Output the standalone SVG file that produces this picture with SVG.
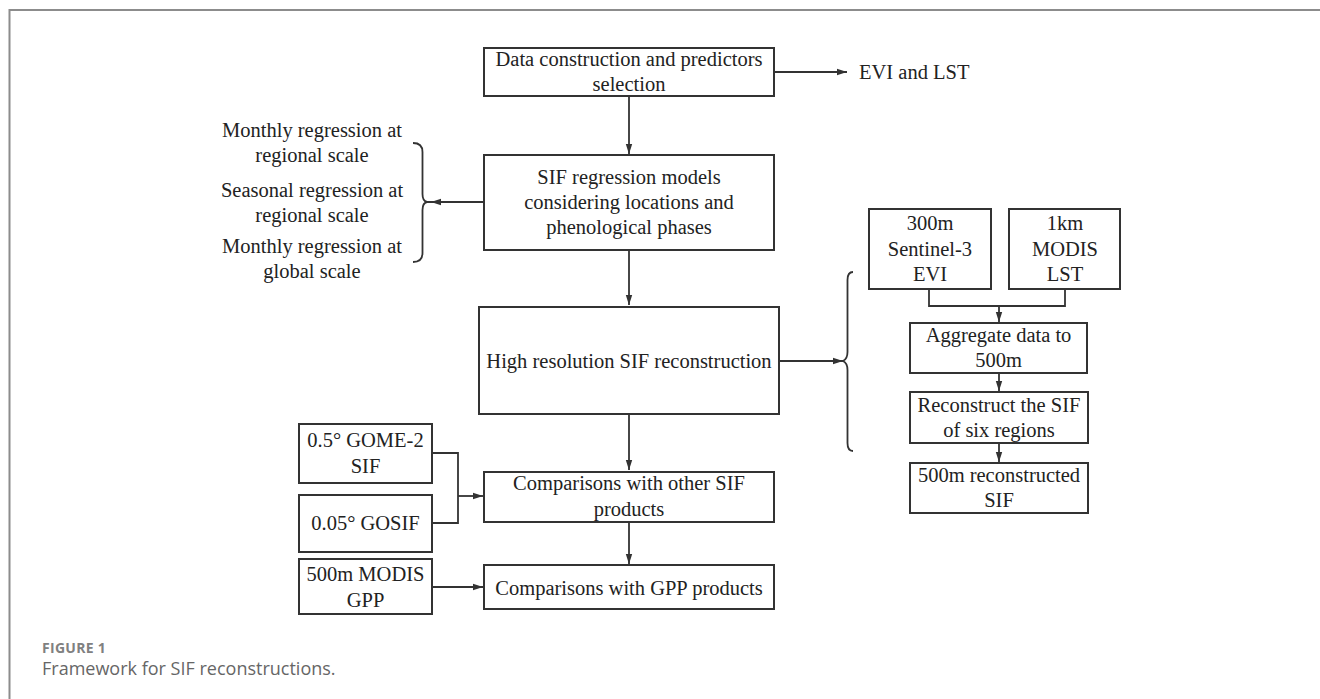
<svg xmlns="http://www.w3.org/2000/svg" width="1320" height="699" viewBox="0 0 1320 699">
<defs>
<marker id="ah" markerWidth="10" markerHeight="8" refX="10" refY="4" orient="auto" markerUnits="userSpaceOnUse">
<path d="M0,0.8 L10,4 L0,7.2 Z" fill="#333"/>
</marker>
<style>
.box{fill:#fff;stroke:#333;stroke-width:2}
.t{font-family:"Liberation Serif","Times New Roman",serif;font-size:20.5px;fill:#222;text-anchor:middle}
.c{fill:none;stroke:#333;stroke-width:1.8}
.a{fill:none;stroke:#333;stroke-width:1.8;marker-end:url(#ah)}
.cap1{font-family:"Open Sans","Noto Sans",sans-serif;font-size:14px;font-weight:700;fill:#808080;letter-spacing:0.3px}
.cap2{font-family:"Open Sans","Noto Sans",sans-serif;font-size:18px;fill:#666}
</style>
</defs>
<rect x="0" y="0" width="1320" height="699" fill="#fff"/>
<path d="M9.5,699 L9.5,10 L1320,10" fill="none" stroke="#8c8c8c" stroke-width="2"/>

<g id="connectors">
<path class="a" d="M773,72 L847,72"/>
<path class="a" d="M629,96 L629,154"/>
<path class="c" d="M484,202 L425,202"/>
<path d="M431,202 L441,198.8 L441,205.2 Z" fill="#333"/>
<path class="c" d="M413,143 Q422.5,143 422.5,152 L422.5,194 Q422.5,201 427,202 Q422.5,203 422.5,210 L422.5,253 Q422.5,262 413,262"/>
<path class="a" d="M629,250 L629,305"/>
<path class="a" d="M779,361 L843,361"/>
<path class="c" d="M853,272 Q847.5,272 847.5,280 L847.5,352 Q847.5,359 843,361 Q847.5,363 847.5,370 L847.5,443 Q847.5,451 853,451"/>
<path class="c" d="M929,289 L929,306 L1065,306 L1065,289"/>
<path class="a" d="M999,306 L999,322"/>
<path class="a" d="M999,373 L999,391"/>
<path class="a" d="M999,443 L999,462"/>
<path class="a" d="M629,414 L629,470"/>
<path class="c" d="M432,453 L458,453 L458,523 L432,523"/>
<path class="a" d="M458,496 L483,496"/>
<path class="a" d="M629,522 L629,564"/>
<path class="a" d="M432,587 L483,587"/>
</g>

<g id="n-data">
<rect class="box" x="484" y="48" width="290" height="48"/>
<text class="t" x="629" y="66">Data construction and predictors</text>
<text class="t" x="629" y="91">selection</text>
</g>
<g id="n-evilst">
<text class="t" x="859" y="79" style="text-anchor:start">EVI and LST</text>
</g>
<g id="n-sifreg">
<rect class="box" x="484" y="155" width="290" height="95"/>
<text class="t" x="629" y="184">SIF regression models</text>
<text class="t" x="629" y="209">considering locations and</text>
<text class="t" x="629" y="234">phenological phases</text>
</g>
<g id="n-regtypes">
<text class="t" x="312" y="137">Monthly regression at</text>
<text class="t" x="312" y="162">regional scale</text>
<text class="t" x="312" y="197">Seasonal regression at</text>
<text class="t" x="312" y="222">regional scale</text>
<text class="t" x="312" y="253">Monthly regression at</text>
<text class="t" x="312" y="278">global scale</text>
</g>
<g id="n-highres">
<rect class="box" x="479" y="307" width="300" height="107"/>
<text class="t" x="629" y="368">High resolution SIF reconstruction</text>
</g>
<g id="n-evi">
<rect class="box" x="869" y="209" width="122" height="80"/>
<text class="t" x="930" y="230">300m</text>
<text class="t" x="930" y="256">Sentinel-3</text>
<text class="t" x="930" y="281">EVI</text>
</g>
<g id="n-lst">
<rect class="box" x="1009" y="209" width="111" height="80"/>
<text class="t" x="1065" y="230">1km</text>
<text class="t" x="1065" y="256">MODIS</text>
<text class="t" x="1065" y="281">LST</text>
</g>
<g id="n-aggregate">
<rect class="box" x="910" y="323" width="177" height="50"/>
<text class="t" x="998.5" y="342">Aggregate data to</text>
<text class="t" x="998.5" y="367">500m</text>
</g>
<g id="n-reconstruct">
<rect class="box" x="910" y="392" width="178" height="51"/>
<text class="t" x="999" y="412">Reconstruct the SIF</text>
<text class="t" x="999" y="437">of six regions</text>
</g>
<g id="n-500m">
<rect class="box" x="910" y="463" width="178" height="50"/>
<text class="t" x="999" y="482">500m reconstructed</text>
<text class="t" x="999" y="507">SIF</text>
</g>
<g id="n-comp-sif">
<rect class="box" x="484" y="472" width="290" height="50"/>
<text class="t" x="629" y="490">Comparisons with other SIF</text>
<text class="t" x="629" y="516">products</text>
</g>
<g id="n-gome">
<rect class="box" x="299" y="424" width="133" height="59"/>
<text class="t" x="365.5" y="447">0.5° GOME-2</text>
<text class="t" x="365.5" y="473">SIF</text>
</g>
<g id="n-gosif">
<rect class="box" x="299" y="495" width="133" height="57"/>
<text class="t" x="365.5" y="530">0.05° GOSIF</text>
</g>
<g id="n-comp-gpp">
<rect class="box" x="484" y="565" width="290" height="44"/>
<text class="t" x="629" y="595">Comparisons with GPP products</text>
</g>
<g id="n-modisgpp">
<rect class="box" x="299" y="559" width="133" height="55"/>
<text class="t" x="365.5" y="581">500m MODIS</text>
<text class="t" x="365.5" y="607">GPP</text>
</g>
<g id="caption">
<text class="cap1" x="42" y="653">FIGURE 1</text>
<text class="cap2" x="42" y="675">Framework for SIF reconstructions.</text>
</g>
</svg>
